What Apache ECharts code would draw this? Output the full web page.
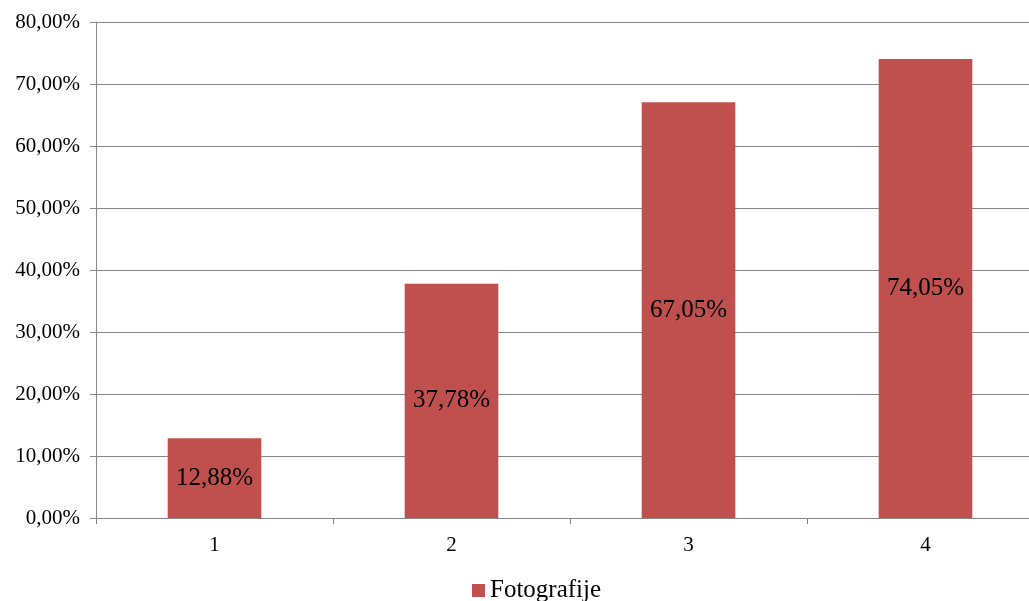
<!DOCTYPE html>
<html>
<head>
<meta charset="utf-8">
<script src="https://cdn.jsdelivr.net/npm/echarts@6/dist/echarts.min.js"></script>
<style>
  html, body { margin: 0; padding: 0; background: #fff; overflow: hidden; }
  #chart { width: 1044px; height: 601px; }
</style>
</head>
<body>
<div id="chart"></div>
<script>
const categories = ['1', '2', '3', '4'];
const seriesName = 'Fotografije';
const values = [12.88, 37.78, 67.05, 74.05];

const fmt = v => v.toFixed(2).replace('.', ',') + '%';
const font = 'Liberation Serif, Times New Roman, serif';

// plot area runs past the right edge of the window, as in the reference
const chart = echarts.init(document.getElementById('chart'));
chart.setOption({
  animation: false,
  grid: { left: 96, right: 0, top: 22, bottom: 83, containLabel: false },
  legend: {
    data: [seriesName],
    left: 467,
    top: 573,
    icon: 'rect',
    itemWidth: 13,
    itemHeight: 13,
    itemGap: 7,
    textStyle: { fontFamily: font, fontSize: 25, color: '#000' }
  },
  xAxis: {
    type: 'category',
    data: categories,
    axisLine: { lineStyle: { color: '#868686', width: 1 } },
    axisTick: { show: true, length: 6, lineStyle: { color: '#868686' } },
    axisLabel: { fontFamily: font, fontSize: 21, color: '#000', margin: 17 }
  },
  yAxis: {
    type: 'value',
    min: 0,
    max: 80,
    interval: 10,
    axisLine: { show: true, lineStyle: { color: '#868686', width: 1 } },
    axisTick: { show: true, length: 6, lineStyle: { color: '#868686' } },
    splitLine: { lineStyle: { color: '#868686', width: 1 } },
    axisLabel: { fontFamily: font, fontSize: 21, color: '#000', margin: 16, formatter: fmt }
  },
  series: [{
    name: seriesName,
    type: 'bar',
    data: values,
    barWidth: '39.5%',
    itemStyle: { color: '#C0504D' },
    label: {
      show: true,
      position: 'inside',
      fontFamily: font,
      fontSize: 25,
      color: '#000',
      formatter: p => fmt(p.value)
    }
  }]
});
</script>
</body>
</html>
